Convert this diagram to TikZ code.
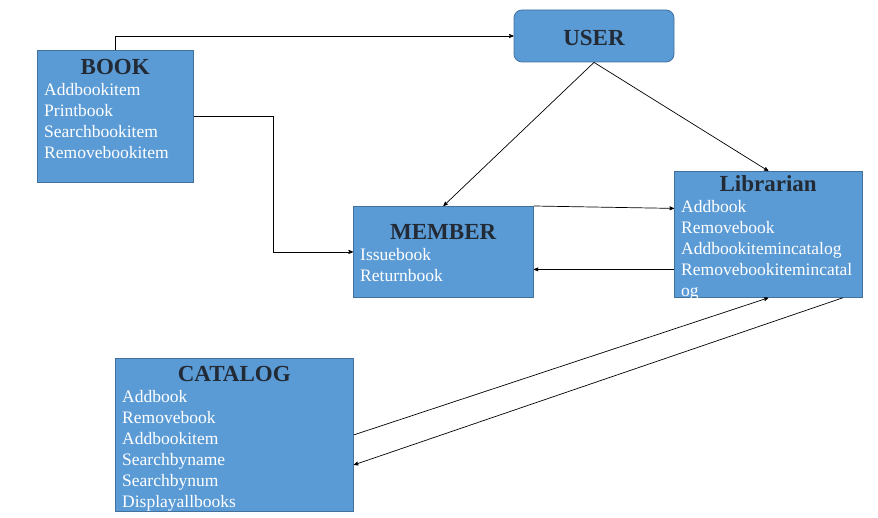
\documentclass[tikz,border=0pt]{standalone}
\usepackage{fontspec}
\setmainfont{Liberation Serif}
\usetikzlibrary{arrows,calc,positioning}
\definecolor{boxfill}{HTML}{5B9BD5}
\definecolor{boxline}{HTML}{41719C}
\definecolor{ttlcol}{HTML}{222A35}
\setlength{\parindent}{0pt}
\newcommand{\boxttl}[1]{{\centering\fontsize{23}{25}\selectfont\bfseries\color{ttlcol}#1\par}}

\begin{document}
\begin{tikzpicture}[x=1pt,y=-1pt,>=stealth',
	cls/.style={draw=boxline,fill=boxfill,line width=0.8pt,inner sep=0pt},
	ops/.style={inner sep=0pt,align=left,text=white,font=\fontsize{17.5}{21}\selectfont},
	link/.style={->,line width=0.7pt}]
		\useasboundingbox (0,0) rectangle (878,518);
		% classes
		\node[cls,rounded corners=8pt,minimum width=160pt,minimum height=52pt] (user) at (594,36) {};
		\node[font=\fontsize{23}{25}\selectfont\bfseries,text=ttlcol] (user-name) at (594,38) {USER};
		\node[cls,anchor=north west,minimum width=156pt,minimum height=132pt] (book) at (37,50) {};
		\node[ops,text width=142pt,below right=9pt and 7pt of book.north west] (book-ops) {\boxttl{BOOK}Addbookitem\\Printbook\\Searchbookitem\\Removebookitem};
		\node[cls,anchor=north west,minimum width=180pt,minimum height=91pt] (member) at (353,206) {};
		\node[ops,text width=166pt,below right=18.5pt and 7pt of member.north west] (member-ops) {\boxttl{MEMBER}Issuebook\\Returnbook};
		\node[cls,anchor=north west,minimum width=188pt,minimum height=126pt] (librarian) at (674,171) {};
		\node[ops,text width=174pt,below right=4pt and 7pt of librarian.north west] (librarian-ops) {\boxttl{Librarian}Addbook\\Removebook\\Addbookitemincatalog\\Removebookitemincatal\\og};
		\node[cls,anchor=north west,minimum width=238pt,minimum height=153pt] (catalog) at (115,358) {};
		\node[ops,text width=224pt,below right=8pt and 7pt of catalog.north west] (catalog-ops) {\boxttl{CATALOG}Addbook\\Removebook\\Addbookitem\\Searchbyname\\Searchbynum\\Displayallbooks};
		% links
		\coordinate (bm) at ($(book.east)!0.5!(member.west)$);
		\coordinate (ml) at ([yshift=26pt]librarian.west);
		\coordinate (lm) at ([yshift=-35pt]librarian.west);
		\coordinate (lc) at ([xshift=-20pt]librarian.south east);
		\coordinate (cl) at ([yshift=-30pt]catalog.east);
		\draw[link] (book.north) |- (user.west);
		\draw[link] (book.east) -| (bm) |- (member.west);
		\draw[link] (user.south) -- (member.north);
		\draw[link] (user.south) -- (librarian.north);
		\draw[link] (member.north east) -- (ml);
		\draw[link] (lm) -- (lm -| member.east);
		\draw[link] (catalog.east) -- (librarian.south);
		\draw[link] (lc) -- (cl);
\end{tikzpicture}
\end{document}
